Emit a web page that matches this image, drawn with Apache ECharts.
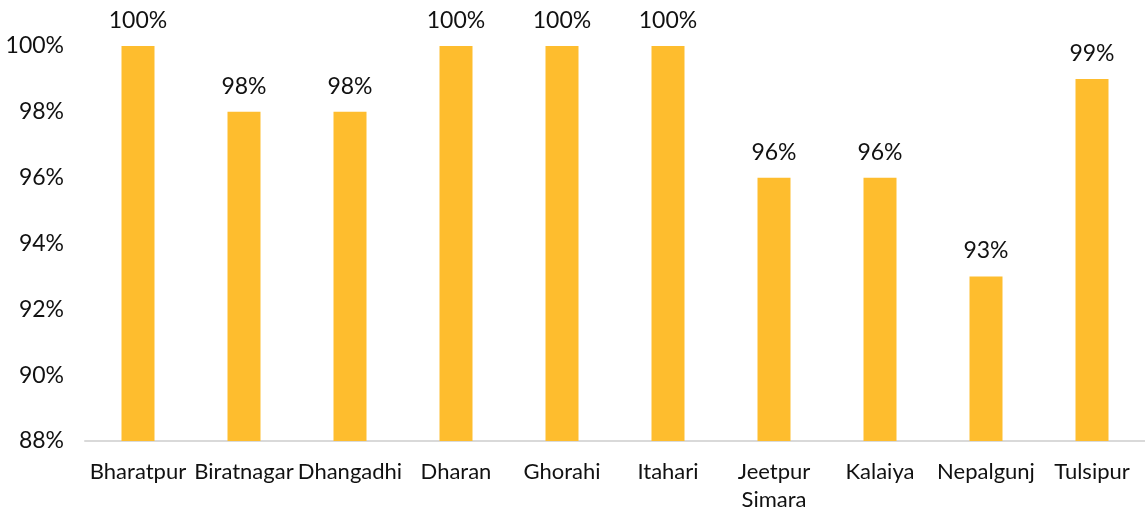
<!DOCTYPE html>
<html lang="en">
<head>
  <meta charset="UTF-8">
  <title>Bar chart</title>
  <script src="https://cdn.jsdelivr.net/npm/echarts@6.0.0/dist/echarts.min.js"></script>
  <style>
    html, body { margin: 0; padding: 0; background: #fff; }
    #chart { width: 1145px; height: 512px; }
  </style>
</head>
<body>
  <div id="chart"></div>
  <script>
    // data
    const cities = ['Bharatpur', 'Biratnagar', 'Dhangadhi', 'Dharan', 'Ghorahi',
                    'Itahari', 'Jeetpur\nSimara', 'Kalaiya', 'Nepalgunj', 'Tulsipur'];
    const shares = [100, 98, 98, 100, 100, 100, 96, 96, 93, 99];
    const yMin = 88, yMax = 100, yStep = 2;

    const font = 'Lato, "Noto Sans", sans-serif';
    const chart = echarts.init(document.getElementById('chart'));

    chart.setOption({
      animation: false,
      backgroundColor: '#ffffff',
      grid: { left: 85, right: 0, top: 46, bottom: 71, outerBoundsMode: 'none' },
      xAxis: {
        type: 'category',
        data: cities,
        axisTick: { show: false },
        axisLine: { lineStyle: { color: '#d9d9d9', width: 2 } },
        axisLabel: {
          interval: 0,
          margin: 17,
          color: '#111',
          fontFamily: font,
          fontSize: 22,
          lineHeight: 28
        }
      },
      yAxis: {
        type: 'value',
        min: yMin,
        max: yMax,
        interval: yStep,
        splitLine: { show: false },
        axisLine: { show: false },
        axisTick: { show: false },
        axisLabel: {
          margin: 21,
          color: '#111',
          fontFamily: font,
          fontSize: 23,
          formatter: v => v + '%'
        }
      },
      series: [{
        type: 'bar',
        data: shares,
        barWidth: 33,
        itemStyle: { color: '#febd2e' },
        label: {
          show: true,
          position: 'top',
          distance: 14,
          color: '#111',
          fontFamily: font,
          fontSize: 23,
          formatter: p => p.value + '%'
        }
      }]
    });
  </script>
</body>
</html>
